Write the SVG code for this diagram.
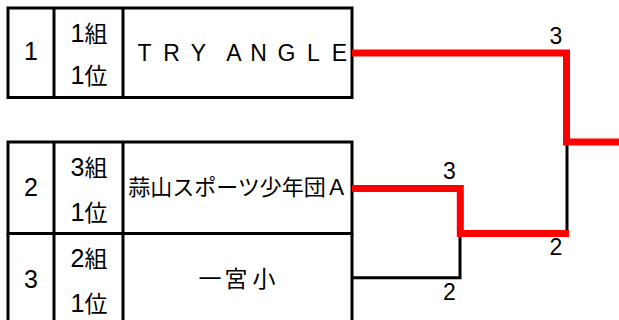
<svg xmlns="http://www.w3.org/2000/svg" width="619" height="320" viewBox="0 0 619 320">
<style>
.box{fill:#fff;stroke:#000;stroke-width:3}
.ln{stroke:#000;stroke-width:3;fill:none}
.num{font-family:"Liberation Sans",Arial,sans-serif;font-size:25px;fill:#000;text-anchor:middle}
.grp{font-family:"Liberation Sans","Noto Sans CJK JP",sans-serif;font-size:25px;fill:#000;text-anchor:middle}
.kj{font-family:"Noto Sans CJK JP",sans-serif;font-size:23px}
.name{font-family:"Noto Sans CJK JP","Liberation Sans",sans-serif;font-size:22px;fill:#000;text-anchor:middle}
.big{font-size:23px}
.lat{font-family:"Liberation Sans",Arial,sans-serif;font-size:23px;fill:#000;text-anchor:middle}
.win{stroke:#ff0000;stroke-width:7;fill:none;stroke-linejoin:miter;stroke-linecap:butt}
.lose{stroke:#000;stroke-width:3;fill:none}
.score{font-family:"Liberation Sans",Arial,sans-serif;font-size:23px;fill:#000;text-anchor:middle}
</style>
<rect width="619" height="320" fill="#fff"/>
<g id="node-1">
<rect class="box" x="8" y="8" width="344" height="89.5"/>
<line class="ln" x1="54" y1="8" x2="54" y2="97.5"/>
<line class="ln" x1="123" y1="8" x2="123" y2="97.5"/>
<text class="num" x="31" y="60">1</text>
<text class="grp" x="89" y="42">1<tspan class="kj">組</tspan></text>
<text class="grp" x="89" y="84">1<tspan class="kj">位</tspan></text>
<text class="lat" x="144.5 171.5 198.5 216 234 258.5 286.5 313.5 339.5" y="61">TRY ANGLE</text>
</g>
<g id="node-2">
<rect class="box" x="8" y="142" width="344" height="91.5"/>
<line class="ln" x1="54" y1="142" x2="54" y2="233.5"/>
<line class="ln" x1="123" y1="142" x2="123" y2="233.5"/>
<text class="num" x="31" y="196">2</text>
<text class="grp" x="89" y="176">3<tspan class="kj">組</tspan></text>
<text class="grp" x="89" y="221">1<tspan class="kj">位</tspan></text>
<text class="name" x="238" y="195">蒜山スポーツ少年団Ａ</text>
</g>
<g id="node-3">
<path class="ln" d="M8,233.5 V330 M352,233.5 V330 M8,233.5 H352"/>
<line class="ln" x1="54" y1="233.5" x2="54" y2="330"/>
<line class="ln" x1="123" y1="233.5" x2="123" y2="330"/>
<text class="num" x="31" y="288">3</text>
<text class="grp" x="89" y="267">2<tspan class="kj">組</tspan></text>
<text class="grp" x="89" y="312">1<tspan class="kj">位</tspan></text>
<text class="name big" x="210 236 264" y="287">一宮小</text>
</g>
<g id="connectors">
<path class="lose" d="M352,277.7 H460 V233.5"/>
<path class="lose" d="M567,142 V233.5"/>
<path class="win" d="M352,53 H566.5 V142 H619"/>
<path class="win" d="M352,188.5 H460.3 V233.5 H569"/>
<text class="score" x="556" y="44">3</text>
<text class="score" x="449.5" y="179">3</text>
<text class="score" x="556" y="255">2</text>
<text class="score" x="449.5" y="300">2</text>
</g>
</svg>
